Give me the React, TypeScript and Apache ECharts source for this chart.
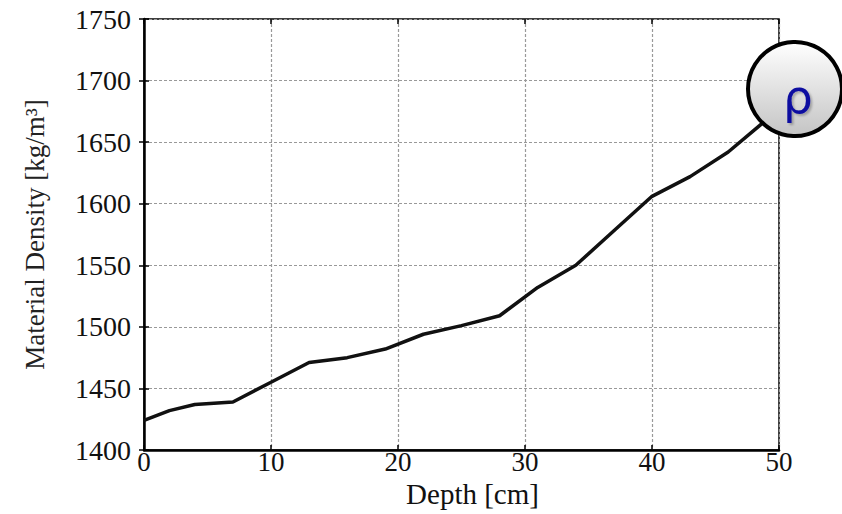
import React, { useEffect, useRef } from "react";
import * as echarts from "echarts";

const depth = [0, 2, 4, 7, 10, 13, 16, 19, 22, 25, 28, 31, 34, 37, 40, 43, 46, 49, 50];
const density = [1424, 1432, 1437, 1439, 1455, 1471, 1475, 1482, 1494, 1501, 1509, 1532, 1550, 1578, 1606, 1622, 1642, 1668, 1676];
const xTicks = [0, 10, 20, 30, 40, 50];
const yTicks = [1400, 1450, 1500, 1550, 1600, 1650, 1700, 1750];

export default function App() {
  const ref = useRef<HTMLDivElement>(null);
  useEffect(() => {
    document.body.style.margin = "0";
    const chart = echarts.init(ref.current!, null, { renderer: "svg" });
    const font = "'Liberation Serif', 'Times New Roman', serif";
    const grid = { left: 144, right: 63, top: 19, bottom: 64 };
    chart.setOption({
      animation: false,
      backgroundColor: "#ffffff",
      grid: { ...grid, show: true, borderColor: "#000", borderWidth: 1.5, outerBoundsMode: "none", containLabel: false },
      xAxis: [
        {
          type: "value",
          min: xTicks[0],
          max: xTicks[xTicks.length - 1],
          interval: 10,
          name: "Depth [cm]",
          nameLocation: "middle",
          nameGap: 30,
          nameMoveOverlap: false,
          nameTextStyle: { fontFamily: font, fontSize: 29, color: "#111", padding: [0, 0, 0, 22], lineHeight: 28 },
          axisLine: { show: true, onZero: false, lineStyle: { color: "#000", width: 2.5 } },
          axisTick: { show: true, inside: true, length: 5, lineStyle: { color: "#000", width: 1.5 } },
          axisLabel: { fontFamily: font, fontSize: 27, color: "#111", margin: 1, lineHeight: 22, formatter: (v: number) => String(v) },
          splitLine: { show: true, lineStyle: { color: "#999", type: [3, 2], width: 1.2 } },
        },
        {
          type: "value",
          position: "top",
          min: xTicks[0],
          max: xTicks[xTicks.length - 1],
          interval: 10,
          axisLine: { show: false },
          axisTick: { show: true, inside: true, length: 5, lineStyle: { color: "#000", width: 1.5 } },
          axisLabel: { show: false },
          splitLine: { show: false },
        },
      ],
      yAxis: [
        {
          type: "value",
          min: yTicks[0],
          max: yTicks[yTicks.length - 1],
          interval: 50,
          name: "Material Density [kg/m³]",
          nameLocation: "middle",
          nameGap: 96,
          nameMoveOverlap: false,
          nameTextStyle: { fontFamily: font, fontSize: 27, color: "#222" },
          axisLine: { show: true, onZero: false, lineStyle: { color: "#000", width: 2.5 } },
          axisTick: { show: true, inside: true, length: 5, lineStyle: { color: "#000", width: 1.5 } },
          axisLabel: { fontFamily: font, fontSize: 28, color: "#111", margin: 13, formatter: (v: number) => String(v) },
          splitLine: { show: true, lineStyle: { color: "#999", type: [3, 2], width: 1.2 } },
        },
        {
          type: "value",
          position: "right",
          min: yTicks[0],
          max: yTicks[yTicks.length - 1],
          interval: 50,
          axisLine: { show: false },
          axisTick: { show: true, inside: true, length: 5, lineStyle: { color: "#000", width: 1.5 } },
          axisLabel: { show: false },
          splitLine: { show: false },
        },
      ],
      series: [
        {
          type: "line",
          data: depth.map((d, i) => [d, density[i]]),
          showSymbol: false,
          lineStyle: { color: "#111", width: 3.5 },
          z: 5,
        },
      ],
      graphic: [
        {
          type: "circle",
          z: 100,
          shape: { cx: 795, cy: 89, r: 47 },
          style: {
            fill: new echarts.graphic.LinearGradient(0, 0, 0, 1, [
              { offset: 0, color: "#ffffff" },
              { offset: 1, color: "#c4c4c4" },
            ]),
            stroke: "#000",
            lineWidth: 4,
          },
        },
        {
          type: "text",
          z: 101,
          x: 798,
          y: 96,
          style: {
            text: "ρ",
            fontSize: 47,
            fontFamily: "'DejaVu Sans', sans-serif",
            fill: "#0a0aa0",
            align: "center",
            verticalAlign: "middle",
            textShadowColor: "rgba(0,0,0,0.25)",
            textShadowOffsetX: 2,
            textShadowOffsetY: 2,
            textShadowBlur: 2,
          },
        },
      ],
    });
    return () => chart.dispose();
  }, []);
  return <div ref={ref} style={{ width: 842, height: 514 }} />;
}
